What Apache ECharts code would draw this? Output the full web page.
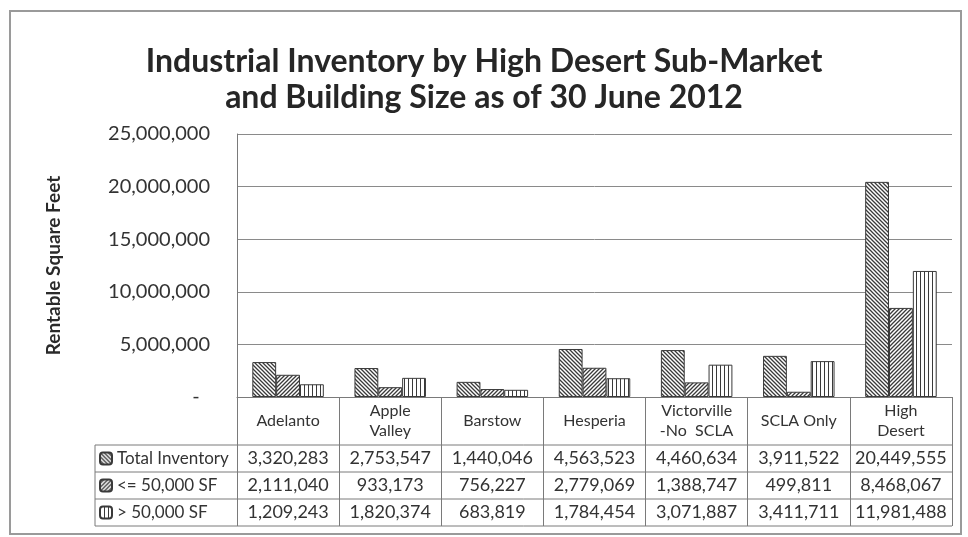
<!DOCTYPE html>
<html>
<head>
<meta charset="utf-8">
<script src="https://cdn.jsdelivr.net/npm/echarts@6/dist/echarts.min.js"></script>
<style>
  html, body { margin: 0; padding: 0; background: #fff; }
  #chart { width: 968px; height: 537px; }
</style>
</head>
<body>
<div id="chart"></div>
<script>
// data
const categories = ['Adelanto', 'Apple\nValley', 'Barstow', 'Hesperia', 'Victorville\n-No  SCLA', 'SCLA Only', 'High\nDesert']
const seriesNames = ['Total Inventory', '<= 50,000 SF', '> 50,000 SF']
const totalInventory = [3320283, 2753547, 1440046, 4563523, 4460634, 3911522, 20449555]
const smallBuildings = [2111040, 933173, 756227, 2779069, 1388747, 499811, 8468067]
const largeBuildings = [1209243, 1820374, 683819, 1784454, 3071887, 3411711, 11981488]
const yTicks = { min: 0, max: 25000000, interval: 5000000 }

const FONT = 'Lato, "Liberation Sans", sans-serif'
const TEXT = '#333'
const LINE = '#7a7a7a'

// grid in pixels, table rows hang under it
const gridLeft = 237
const gridRight = 16
const gridTop = 134
const gridBottom = 140
const plotBottom = 537 - gridBottom
const rowLines = [445, 472, 499, 526]
const tableLeft = 95

// hatch patterns like the excel fills
const makePattern = (kind) => {
  const c = document.createElement('canvas')
  c.width = 4
  c.height = 4
  const ctx = c.getContext('2d')
  ctx.fillStyle = '#fff'
  ctx.fillRect(0, 0, 4, 4)
  ctx.strokeStyle = '#3a3a3a'
  ctx.fillStyle = '#3a3a3a'
  ctx.lineWidth = 1.3
  if (kind === 'vertical') {
    ctx.fillRect(0, 0, 1, 4)
  } else {
    let segs = kind === 'back'
      ? [[-1, -1, 5, 5], [-1, 3, 1, 5], [3, -1, 5, 1]]
      : [[5, -1, -1, 5], [1, -1, -1, 1], [5, 3, 3, 5]]
    ctx.beginPath()
    segs.forEach((s) => {
      ctx.moveTo(s[0], s[1])
      ctx.lineTo(s[2], s[3])
    })
    ctx.stroke()
  }
  return { image: c, repeat: 'repeat' }
}
const patterns = [makePattern('back'), makePattern('forward'), makePattern('vertical')]
const values = [totalInventory, smallBuildings, largeBuildings]

const fmt = (v) => v.toLocaleString('en-US')

// one hidden category axis per table row, only its labels show
const rowAxis = (data, center) => ({
  type: 'category',
  gridIndex: 0,
  position: 'bottom',
  data: data.map(fmt),
  axisLine: { show: false, onZero: false },
  axisTick: { show: false },
  splitLine: { show: false },
  axisLabel: {
    interval: 0,
    margin: center - plotBottom,
    verticalAlign: 'middle',
    fontFamily: FONT,
    fontSize: 18,
    color: TEXT
  }
})

const chart = echarts.init(document.getElementById('chart'))

const graphics = [
  // outer frame
  { type: 'rect', shape: { x: 10, y: 11, width: 951, height: 523 }, style: { fill: null, stroke: '#9a9a9a', lineWidth: 2 }, silent: true },
  // left edge of the legend column
  { type: 'line', shape: { x1: tableLeft, y1: rowLines[0], x2: tableLeft, y2: rowLines[3] }, style: { stroke: LINE, lineWidth: 1 } }
]
rowLines.forEach((y) => {
  graphics.push({ type: 'line', shape: { x1: tableLeft, y1: y, x2: 968 - gridRight, y2: y }, style: { stroke: LINE, lineWidth: 1 } })
})

const option = {
  backgroundColor: '#fff',
  animation: false,
  title: {
    text: 'Industrial Inventory by High Desert Sub-Market\nand Building Size as of 30 June 2012',
    left: 'center',
    top: 39,
    textStyle: { fontFamily: FONT, fontSize: 32, fontWeight: 'bold', lineHeight: 36, color: '#262626' }
  },
  legend: {
    orient: 'vertical',
    left: tableLeft + 4,
    top: rowLines[0],
    padding: 0,
    itemGap: 0,
    itemWidth: 12,
    itemHeight: 12,
    selectedMode: false,
    data: seriesNames,
    textStyle: { fontFamily: FONT, fontSize: 17, color: TEXT, lineHeight: 27 }
  },
  grid: { left: gridLeft, right: gridRight, top: gridTop, bottom: gridBottom, containLabel: false },
  xAxis: [
    {
      type: 'category',
      data: categories,
      axisLine: { show: true, onZero: false, lineStyle: { color: LINE } },
      axisTick: { show: true, interval: 0, alignWithLabel: false, length: rowLines[3] - plotBottom, lineStyle: { color: LINE } },
      axisLabel: {
        interval: 0,
        margin: (rowLines[0] - plotBottom) / 2,
        verticalAlign: 'middle',
        lineHeight: 20,
        fontFamily: FONT,
        fontSize: 16,
        color: TEXT
      }
    },
    rowAxis(totalInventory, (rowLines[0] + rowLines[1]) / 2),
    rowAxis(smallBuildings, (rowLines[1] + rowLines[2]) / 2),
    rowAxis(largeBuildings, (rowLines[2] + rowLines[3]) / 2)
  ],
  yAxis: {
    type: 'value',
    min: yTicks.min,
    max: yTicks.max,
    interval: yTicks.interval,
    name: 'Rentable Square Feet',
    nameLocation: 'middle',
    nameRotate: 90,
    nameGap: gridLeft - 53 - 10,
    nameTextStyle: { fontFamily: FONT, fontSize: 19, fontWeight: 'bold', color: '#2a2a2a' },
    axisLine: { show: true, lineStyle: { color: LINE } },
    axisTick: { show: false },
    splitLine: { lineStyle: { color: '#8a8a8a' } },
    axisLabel: {
      margin: 27,
      fontFamily: FONT,
      fontSize: 20,
      color: TEXT,
      formatter: (v) => (v === 0 ? '-  ' : fmt(v))
    }
  },
  series: seriesNames.map((name, i) => ({
    name: name,
    type: 'bar',
    xAxisIndex: 0,
    data: values[i],
    barGap: '0%',
    barCategoryGap: '30%',
    itemStyle: { color: patterns[i], borderColor: '#3a3a3a', borderWidth: 1 }
  })),
  graphic: graphics
}

chart.setOption(option)
</script>
</body>
</html>
